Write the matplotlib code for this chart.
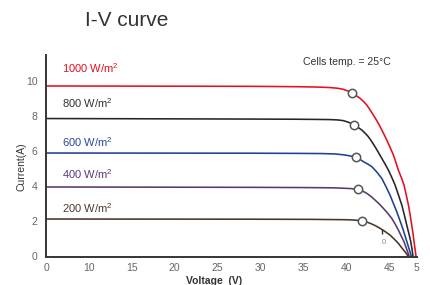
import matplotlib
matplotlib.use("Agg")
import matplotlib.pyplot as plt

plt.rcParams['font.family'] = ['Liberation Sans', 'DejaVu Sans']
plt.rcParams['mathtext.fontset'] = 'custom'
plt.rcParams['mathtext.rm'] = 'Liberation Sans'
plt.rcParams['mathtext.default'] = 'regular'

# ---- data ----
irradiance = ["1000", "800", "600", "400", "200"]
colors = ["#e60f1e", "#262626", "#1f3f9a", "#583a6e", "#4a3528"]
label_colors = ["#e60f1e", "#333333", "#2a48a0", "#583a78", "#4a3a30"]

v_1000 = [5.0, 28.8, 34.0, 36.5, 38.1, 39.0, 39.65, 40.20, 40.70, 41.15, 41.60, 42.00, 42.38, 42.76, 43.15, 43.55, 43.93, 44.32, 44.71, 45.10, 45.48, 45.78, 46.06, 46.40, 46.72, 46.98, 47.23, 47.44, 47.62, 47.77, 47.89, 48.01, 48.12]
i_1000 = [9.69, 9.67, 9.65, 9.63, 9.60, 9.56, 9.50, 9.40, 9.27, 9.14, 8.99, 8.81, 8.61, 8.34, 8.04, 7.72, 7.38, 7.01, 6.62, 6.20, 5.77, 5.34, 4.91, 4.50, 4.06, 3.50, 2.93, 2.36, 1.79, 1.30, 0.84, 0.42, 0.0]
v_800 = [5.0, 28.8, 34.0, 36.5, 38.1, 39.0, 39.65, 40.30, 40.90, 41.35, 41.80, 42.18, 42.56, 42.95, 43.34, 43.73, 44.13, 44.52, 44.90, 45.29, 45.68, 46.07, 46.46, 46.76, 47.04, 47.29, 47.51, 47.65, 47.77]
i_800 = [7.84, 7.81, 7.80, 7.79, 7.78, 7.76, 7.72, 7.62, 7.47, 7.34, 7.19, 7.01, 6.81, 6.54, 6.24, 5.92, 5.58, 5.25, 4.91, 4.50, 4.06, 3.50, 2.93, 2.36, 1.79, 1.30, 0.84, 0.42, 0.0]
v_600 = [5.0, 28.8, 34.0, 37.0, 38.6, 39.65, 40.40, 41.13, 41.55, 41.98, 42.47, 42.96, 43.55, 44.13, 44.61, 45.09, 45.48, 45.87, 46.22, 46.57, 46.84, 47.11, 47.35, 47.58]
i_600 = [5.88, 5.87, 5.86, 5.85, 5.83, 5.78, 5.72, 5.64, 5.53, 5.39, 5.26, 5.11, 4.80, 4.44, 3.98, 3.49, 3.02, 2.55, 2.08, 1.60, 1.18, 0.75, 0.37, 0.0]
v_400 = [5.0, 28.8, 34.0, 37.0, 38.6, 39.65, 40.50, 41.40, 41.90, 42.38, 42.86, 43.34, 43.83, 44.31, 44.80, 45.29, 45.68, 46.06, 46.39, 46.72, 47.00, 47.27, 47.34]
i_400 = [3.95, 3.93, 3.92, 3.91, 3.90, 3.88, 3.86, 3.82, 3.72, 3.59, 3.42, 3.21, 2.99, 2.74, 2.47, 2.17, 1.85, 1.51, 1.17, 0.84, 0.46, 0.09, 0.0]
v_200 = [5.0, 28.8, 36.0, 40.05, 40.95, 41.80, 42.30, 42.76, 43.35, 43.93, 44.51, 45.09, 45.58, 46.06, 46.45, 46.84, 47.05, 47.23]
i_200 = [2.13, 2.12, 2.11, 2.09, 2.07, 2.03, 1.97, 1.89, 1.76, 1.60, 1.42, 1.22, 0.99, 0.75, 0.50, 0.27, 0.13, 0.0]

mpp_v = [40.70, 40.90, 41.13, 41.40, 41.80]
mpp_i = [9.27, 7.47, 5.64, 3.82, 2.03]

label_v = 6.86
label_i = [10.42, 8.42, 6.22, 4.38, 2.49]

xtick_pos = [10, 15, 20, 25, 30, 35, 40, 45]
xtick_labels = ["10", "15", "20", "25", "30", "35", "40", "45"]
xend_pos = [5.0, 48.2]
xend_labels = ["0", "5"]
ytick_pos = [0, 2, 4, 6, 8, 10]
ytick_labels = ["0", "2", "4", "6", "8", "10"]

stray_v, stray_i, stray_text = 44.39, 0.82, "0"
stray_tick_v, stray_tick_i0, stray_tick_i1 = 44.12, 1.28, 1.56

curves_v = [v_1000, v_800, v_600, v_400, v_200]
curves_i = [i_1000, i_800, i_600, i_400, i_200]

# ---- figure ----
fig = plt.figure(figsize=(4.31, 2.85), dpi=100)
ax = fig.add_axes([46/431, 1-256.5/285, (416.7-46)/431, (256.5-55)/285])
ax.set_xlim(5.0, 48.2)
ax.set_ylim(0, 11.45)

for v, i, c in zip(curves_v, curves_i, colors):
    ax.plot(v, i, color=c, lw=1.15, solid_capstyle='butt', solid_joinstyle='round', zorder=2)

ax.plot(mpp_v, mpp_i, ls='none', marker='o', ms=6, mfc='white', mec='#555555', mew=1.1, zorder=3)

for lab, y, c in zip(irradiance, label_i, label_colors):
    ax.text(label_v, y, lab + r" W/m$^{2}$", color=c, fontsize=8, ha='left', va='baseline')

for s in ['top', 'right']:
    ax.spines[s].set_visible(False)
for s in ['left', 'bottom']:
    ax.spines[s].set_color('#3a3333')
    ax.spines[s].set_linewidth(1.4)

ax.set_xticks(xend_pos + xtick_pos)
ax.set_xticklabels(xend_labels + xtick_labels)
ax.set_xticks(xtick_pos, minor=True)
ax.tick_params(axis='x', which='major', length=0, pad=5.0, labelsize=7.5, labelcolor='#666666')
ax.tick_params(axis='x', which='minor', direction='in', length=4, width=1.2, color='#3a3333')
ax.set_yticks(ytick_pos)
ax.set_yticklabels(ytick_labels)
ax.tick_params(axis='y', length=0, pad=6, labelsize=7.5, labelcolor='#666666')

ax.text(stray_v, stray_i, stray_text, fontsize=5.5, color='#888888', ha='center', va='center')
ax.vlines(stray_tick_v, stray_tick_i0, stray_tick_i1, color='#333333', lw=1.0)

fig.text(127/431, 1-20/285, "I-V curve", fontsize=15, color='#333333', ha='center', va='center')
fig.text(303/431, 1-62/285, "Cells temp. = 25°C", fontsize=7.6, color='#333333', ha='left', va='center')
fig.text(22/431, 1-167/285, "Current(A)", fontsize=7.5, color='#333333', rotation=90, ha='center', va='center')
fig.text(214/431, 1-281/285, "Voltage  (V)", fontsize=7.5, fontweight='bold', color='#333333', ha='center', va='center')

fig.savefig("out.png", dpi=100)
